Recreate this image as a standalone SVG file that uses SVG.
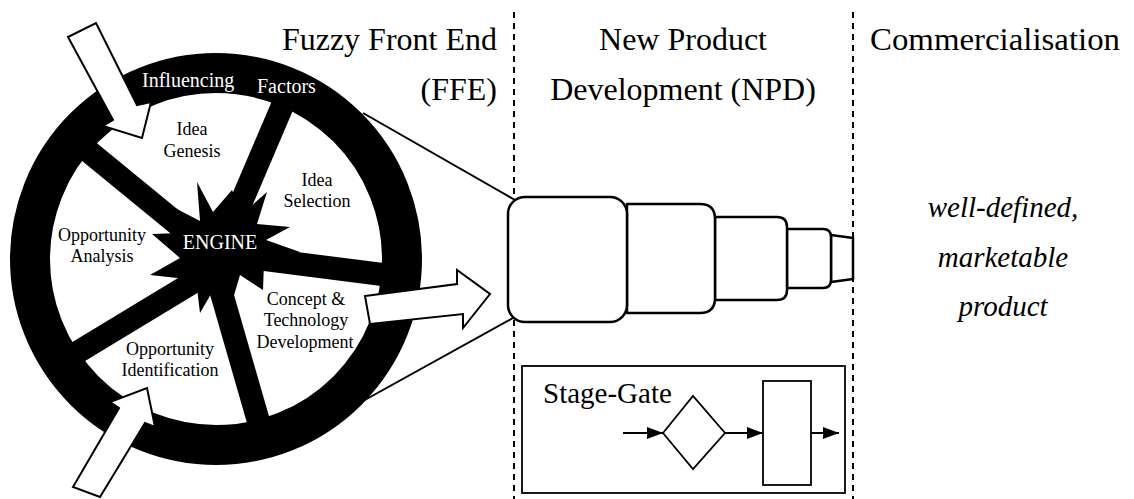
<svg xmlns="http://www.w3.org/2000/svg" width="1134" height="499" viewBox="0 0 1134 499">
  <style>
    .serif { font-family: "Liberation Serif", "Times New Roman", serif; }
    .head { font-size: 32px; fill: #000; }
    .lbl { font-size: 18px; fill: #000; text-anchor: middle; }
    .rim { font-size: 20px; fill: #fff; }
    .divider { stroke: #000; stroke-width: 2; stroke-dasharray: 6 5; fill: none; }
    .spoke { stroke: #000; stroke-width: 23; stroke-linecap: butt; fill: none; }
    .block { fill: #fff; stroke: #000; stroke-width: 2; stroke-linejoin: miter; }
    .thin { stroke: #000; stroke-width: 2; fill: none; }
    .stage { fill: #fff; stroke: #000; stroke-width: 2.5; stroke-linejoin: round; }
    .sg { fill: #fff; stroke: #000; stroke-width: 1.8; }
  </style>
  <defs>
    <marker id="tri" viewBox="0 0 16 12" refX="16" refY="6" markerWidth="16" markerHeight="12" markerUnits="userSpaceOnUse" orient="auto">
      <path d="M0,0 L16,6 L0,12 Z" fill="#000"/>
    </marker>
  </defs>

  <rect width="1134" height="499" fill="#fff"/>

  <!-- phase dividers -->
  <g id="dividers">
    <line class="divider" x1="514" y1="12" x2="514" y2="499"/>
    <line class="divider" x1="853" y1="12" x2="853" y2="499"/>
  </g>

  <!-- phase headings -->
  <g id="phase-labels" class="serif">
    <text class="head" x="497" y="50" text-anchor="end">Fuzzy Front End</text>
    <text class="head" x="497" y="100" text-anchor="end">(FFE)</text>
    <text class="head" x="683" y="50" text-anchor="middle">New Product</text>
    <text class="head" x="683" y="100" text-anchor="middle">Development (NPD)</text>
    <text class="head" x="870" y="50" textLength="250" lengthAdjust="spacingAndGlyphs">Commercialisation</text>
  </g>

  <g id="outcome" class="serif">
    <text x="1003" y="217" font-size="29" font-style="italic" text-anchor="middle">well-defined,</text>
    <text x="1003" y="267" font-size="29" font-style="italic" text-anchor="middle">marketable</text>
    <text x="1003" y="316" font-size="29" font-style="italic" text-anchor="middle">product</text>
  </g>

  <g id="connectors">
    <!-- funnel edges from the wheel to the NPD stages -->
    <line class="thin" x1="363" y1="113" x2="515" y2="200"/>
    <line class="thin" x1="363" y1="401" x2="513" y2="318"/>
  </g>

  <!-- FFE wheel -->
  <g id="wheel">
    <circle cx="216" cy="259" r="186" fill="#fff" stroke="#000" stroke-width="40"/>
    <line class="spoke" x1="223" y1="245" x2="287" y2="95"/>
    <line class="spoke" x1="215" y1="255" x2="76" y2="141"/>
    <line class="spoke" x1="215" y1="269" x2="68" y2="358"/>
    <line class="spoke" x1="212" y1="260" x2="261" y2="430"/>
    <line class="spoke" x1="230" y1="255" x2="402" y2="277"/>
  </g>

  <g id="engine">
    <polygon fill="#000" points="197,182 213,212 232,190 242,214 267,192 257,224 290,227 266,240 300,252 264,262 263,290 240,275 232,302 218,282 200,313 196,280 150,275 180,258 152,234 181,233 175,208 200,221"/>
    <text class="serif rim" x="220" y="249" font-size="21" text-anchor="middle">ENGINE</text>
  </g>

  <g id="wheel-labels" class="serif">
    <text class="rim" x="142" y="87">Influencing</text>
    <text class="rim" x="257" y="93">Factors</text>
    <text class="lbl" x="192" y="135">Idea</text>
    <text class="lbl" x="192" y="157">Genesis</text>
    <text class="lbl" x="317" y="186">Idea</text>
    <text class="lbl" x="317" y="207">Selection</text>
    <text class="lbl" x="102" y="241">Opportunity</text>
    <text class="lbl" x="102" y="262">Analysis</text>
    <text class="lbl" x="306" y="305">Concept &amp;</text>
    <text class="lbl" x="306" y="326">Technology</text>
    <text class="lbl" x="305" y="348">Development</text>
    <text class="lbl" x="170" y="355">Opportunity</text>
    <text class="lbl" x="170" y="376">Identification</text>
  </g>

  <!-- block arrows entering / leaving the wheel -->
  <g id="flow-arrows">
    <polygon class="block" points="68,37 96,23 137,105 151,102 142,138 103,126 113,120"/>
    <polygon class="block" points="73,487 119,408 110,402 147,388 155,427 145,423 100,497"/>
    <polygon class="block" points="365,296 457,284 457,270 490,294 463,328 463,314 370,324"/>
  </g>

  <!-- NPD funnel of narrowing stages -->
  <g id="npd-funnel">
    <path class="stage" d="M831,235 L853,238 L853,279 L831,282 Z"/>
    <path class="stage" d="M787,229 L823,229 Q831,229 831,237 L831,280 Q831,288 823,288 L787,288 Z"/>
    <path class="stage" d="M715,217 L777,217 Q787,217 787,227 L787,290 Q787,300 777,300 L715,300 Z"/>
    <path class="stage" d="M627,204 L700,204 Q715,204 715,219 L715,298 Q715,313 700,313 L627,313 Z"/>
    <rect class="stage" x="508" y="197" width="119" height="125" rx="17" ry="17"/>
  </g>

  <!-- Stage-Gate inset -->
  <g id="stage-gate">
    <rect class="sg" x="522" y="366" width="323" height="127"/>
    <text class="serif" x="543" y="403" font-size="29">Stage-Gate</text>
    <polygon class="sg" points="663,433 693,396 725,433 693,469"/>
    <rect class="sg" x="763" y="381" width="48" height="104"/>
    <line class="thin" x1="623" y1="433" x2="663" y2="433" marker-end="url(#tri)"/>
    <line class="thin" x1="725" y1="433" x2="763" y2="433" marker-end="url(#tri)"/>
    <line class="thin" x1="811" y1="433" x2="839" y2="433" marker-end="url(#tri)"/>
  </g>
</svg>
